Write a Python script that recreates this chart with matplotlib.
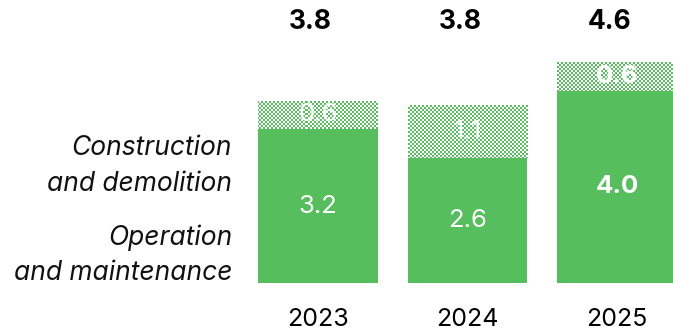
import numpy as np
import matplotlib
matplotlib.use("Agg")
import matplotlib.pyplot as plt
from matplotlib.transforms import blended_transform_factory

years = ["2023", "2024", "2025"]
operation = [3.2, 2.6, 4.0]
construction = [0.6, 1.1, 0.6]
totals = [3.8, 3.8, 4.6]
series_names = ["Operation\nand maintenance", "Construction\nand demolition"]

GREEN = "#57BE5E"
W, H, DPI = 673, 331, 100
plt.rcParams["font.family"] = ["Inter", "DejaVu Sans"]

fig = plt.figure(figsize=(W / DPI, H / DPI), dpi=DPI)
ax = fig.add_axes([0, 0, 1, 1])
ax.set_axis_off()

px_x = 149.5          # pixels per category step
px_y = 48.0           # pixels per unit value
x0_px, base_px = 318, 48
xlim = (-x0_px / px_x, (W - x0_px) / px_x)
ylim = (-base_px / px_y, (H - base_px) / px_y)
ax.set_xlim(*xlim)
ax.set_ylim(*ylim)

x = np.arange(len(years))
width = 0.80

solid = ax.bar(x, operation, width, color=GREEN, linewidth=0)
upper = ax.bar(x, construction, width, bottom=operation, color="white", linewidth=0)

# fine checkerboard texture for the construction segment
cell = 2
ny, nx = H // cell + 1, W // cell + 1
yy, xx = np.mgrid[0:ny, 0:nx]
checker = ((xx + yy) % 2).astype(float)
rgb_green = np.array(matplotlib.colors.to_rgb(GREEN))
img = np.where(checker[..., None] == 1, rgb_green, np.ones(3))
for patch in upper:
    im = ax.imshow(img, extent=[*xlim, *ylim], origin="lower",
                   interpolation="nearest", aspect="auto", zorder=2)
    im.set_clip_path(patch)
ax.set_xlim(*xlim)
ax.set_ylim(*ylim)

# segment values
for i in range(len(years)):
    bold = "bold" if i == 2 else "normal"
    ax.text(x[i], operation[i] / 2, f"{operation[i]:.1f}", ha="center", va="center",
            color="white", fontsize=18.5, fontweight=bold, zorder=3)
    ax.text(x[i], operation[i] + construction[i] / 2, f"{construction[i]:.1f}",
            ha="center", va="center", color="white", fontsize=18.5, fontweight=bold, zorder=3)

tr = blended_transform_factory(ax.transData, ax.transAxes)
for i in range(len(years)):
    ax.text(x[i] - 0.05, 1 - 22 / H, f"{totals[i]:.1f}", transform=tr, ha="center",
            va="center", fontsize=19, fontweight="bold", color="black")
    ax.text(x[i], 1 - 320 / H, years[i], transform=tr, ha="center", va="center",
            fontsize=18, color="black")

# series names on the left
fig.text(232 / W, 1 - 166 / H, series_names[1], ha="right", va="center", fontsize=19,
         style="italic", linespacing=1.47, color="#111111")
fig.text(232 / W, 1 - 255 / H, series_names[0], ha="right", va="center", fontsize=19,
         style="italic", linespacing=1.47, color="#111111")

fig.savefig("out.png", dpi=DPI)
